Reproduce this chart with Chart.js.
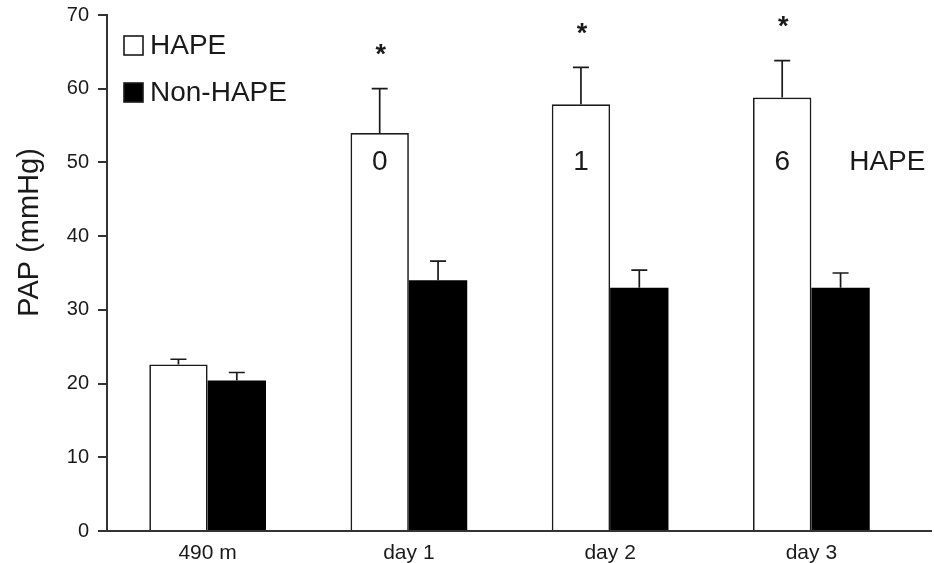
<!DOCTYPE html>
<html>
<head>
<meta charset="utf-8">
<script src="https://cdn.jsdelivr.net/npm/chart.js@4/dist/chart.umd.min.js"></script>
<style>
  html, body { margin: 0; padding: 0; background: #fff; }
  #wrap { width: 934px; height: 563px; }
</style>
</head>
<body>
<div id="wrap"><canvas id="papChart" width="934" height="563"></canvas></div>
<script>
const categories = ['490 m', 'day 1', 'day 2', 'day 3'];
const hapeMean = [22.6, 54.0, 57.9, 58.8];
const hapeErr = [0.7, 6.0, 5.0, 5.0];
const nonHapeMean = [20.4, 34.0, 33.0, 33.0];
const nonHapeErr = [1.1, 2.6, 2.4, 2.0];
const hapeCounts = ['', '0', '1', '6'];
const significant = [false, true, true, true];
const yTicks = [0, 10, 20, 30, 40, 50, 60, 70];

const FONT = "'Liberation Sans', Arial, sans-serif";
const INK = '#1a1a1a';

// up-only error bars, asterisks, counts in bars, legend, y title
const annotations = {
  id: 'annotations',
  afterDatasetsDraw(chart) {
    const { ctx, scales: { y } } = chart;
    const area = chart.chartArea;
    const errs = [hapeErr, nonHapeErr];
    ctx.save();
    ctx.strokeStyle = INK;
    ctx.lineWidth = 1.7;
    chart.data.datasets.forEach((ds, di) => {
      chart.getDatasetMeta(di).data.forEach((bar, i) => {
        const top = y.getPixelForValue(ds.data[i] + errs[di][i]);
        ctx.beginPath();
        ctx.moveTo(bar.x, bar.y);
        ctx.lineTo(bar.x, top);
        ctx.moveTo(bar.x - 8, top);
        ctx.lineTo(bar.x + 8, top);
        ctx.stroke();
      });
    });

    const hapeBars = chart.getDatasetMeta(0).data;
    ctx.fillStyle = INK;
    ctx.textAlign = 'center';
    ctx.textBaseline = 'middle';
    hapeBars.forEach((bar, i) => {
      const errTop = y.getPixelForValue(hapeMean[i] + hapeErr[i]);
      if (significant[i]) {
        ctx.font = `bold 27px ${FONT}`;
        ctx.fillText('*', bar.x + 1, errTop - 33);
      }
      if (hapeCounts[i]) {
        ctx.font = `28px ${FONT}`;
        ctx.fillText(hapeCounts[i], bar.x, y.getPixelForValue(50));
      }
    });
    const last = hapeBars[hapeBars.length - 1];
    ctx.font = `28px ${FONT}`;
    ctx.textAlign = 'left';
    ctx.fillText('HAPE', last.x + 67, y.getPixelForValue(50));

    // bottom axis runs on past the last group
    ctx.lineWidth = 2;
    ctx.strokeStyle = '#333';
    ctx.beginPath();
    ctx.moveTo(area.left, area.bottom);
    ctx.lineTo(932, area.bottom);
    ctx.stroke();

    // legend, stacked in the top-left corner
    chart.data.datasets.forEach((ds, di) => {
      const ly = area.top + 30 + di * 47;
      ctx.fillStyle = ds.backgroundColor;
      ctx.fillRect(area.left + 17, ly - 9, 19, 19);
      ctx.lineWidth = 1.6;
      ctx.strokeStyle = INK;
      ctx.strokeRect(area.left + 17, ly - 9, 19, 19);
      ctx.fillStyle = INK;
      ctx.font = `28px ${FONT}`;
      ctx.textAlign = 'left';
      ctx.textBaseline = 'middle';
      ctx.fillText(ds.label, area.left + 43, ly + 1);
    });

    // y axis title, sitting above the axis middle as in the original
    ctx.translate(38, y.getPixelForValue(40.5));
    ctx.rotate(-Math.PI / 2);
    ctx.font = `29px ${FONT}`;
    ctx.textAlign = 'center';
    ctx.textBaseline = 'alphabetic';
    ctx.fillStyle = INK;
    ctx.fillText('PAP (mmHg)', 0, 0);
    ctx.restore();
  }
};

new Chart(document.getElementById('papChart'), {
  type: 'bar',
  data: {
    labels: categories,
    datasets: [
      {
        label: 'HAPE',
        data: hapeMean,
        backgroundColor: '#ffffff',
        borderColor: INK,
        borderWidth: 1.7,
        borderSkipped: 'bottom'
      },
      {
        label: 'Non-HAPE',
        data: nonHapeMean,
        backgroundColor: '#000000',
        borderColor: '#000000',
        borderWidth: 0
      }
    ]
  },
  options: {
    responsive: false,
    animation: false,
    devicePixelRatio: 1,
    layout: { padding: { top: 15, right: 22, bottom: 0, left: 0 } },
    datasets: { bar: { categoryPercentage: 0.58, barPercentage: 1.0 } },
    plugins: {
      legend: { display: false },
      tooltip: { enabled: false }
    },
    scales: {
      x: {
        grid: { display: false },
        border: { display: true, color: '#333', width: 2 },
        ticks: { color: INK, font: { family: FONT, size: 21 }, padding: 2 },
        afterFit: (s) => { s.height = 32; s.paddingLeft = 0; s.paddingRight = 0; }
      },
      y: {
        min: 0,
        max: 70,
        afterBuildTicks: (s) => { s.ticks = yTicks.map(v => ({ value: v })); },
        grid: { display: true, drawOnChartArea: false, drawTicks: true, tickLength: 9, color: '#333', lineWidth: 2 },
        border: { display: true, color: '#333', width: 2 },
        ticks: { color: INK, font: { family: FONT, size: 20 }, padding: 9 },
        title: { display: false },
        afterFit: (s) => { s.width = 107; s.paddingTop = 0; s.paddingBottom = 0; }
      }
    }
  },
  plugins: [annotations]
});
</script>
</body>
</html>
